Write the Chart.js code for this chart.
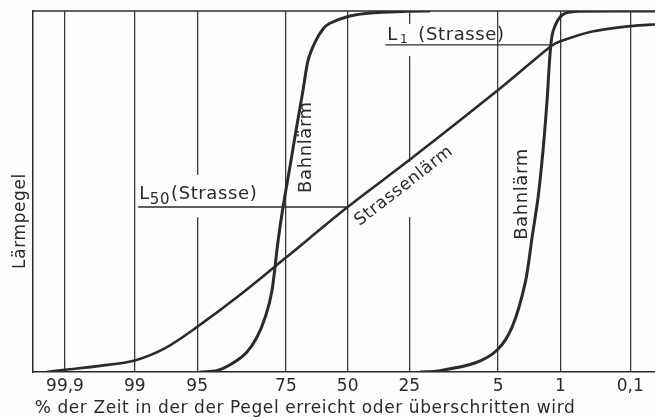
<!DOCTYPE html>
<html>
<head>
<meta charset="utf-8">
<script src="https://cdn.jsdelivr.net/npm/chart.js@4/dist/chart.umd.min.js"></script>
<style>
  html, body { margin: 0; padding: 0; background: #fdfdfd; overflow: hidden; }
  #wrap { width: 655px; height: 418px; overflow: hidden; }
</style>
</head>
<body>
<div id="wrap"><canvas id="chart" width="680" height="418"></canvas></div>
<script>
// probability axis ticks (% of time the level is reached or exceeded)
const tickPct = [99.9, 99, 95, 75, 50, 25, 5, 1, 0.1];
const tickLabels = ['99,9', '99', '95', '75', '50', '25', '5', '1', '0,1'];

// Strassenlärm (road noise) - percent / relative level
const roadPct = [99.95, 99.9, 99.66, 99, 97.7, 95, 88, 75, 50, 25, 5, 1.3, 1, 0.4, 0.1, 0.031];
const roadLevel = [0, 0.6, 1.7, 3.2, 6.6, 12.5, 21.4, 31.7, 45.7, 58.7, 78.1, 90.3, 91.6, 94.2, 95.8, 96.4];

// Bahnlärm (rail noise), first curve
const railAPct = [94.7, 92.3, 89.5, 86.5, 83.9, 81.5, 79.6, 77.7, 76.0, 73.6, 71.0, 68.7, 66.7, 63.9, 60.6, 57.7, 49.0, 41.2, 25.4, 18.4];
const railALevel = [0, 0.4, 2.5, 5.5, 9.7, 15.5, 22.5, 36.0, 45.7, 56.8, 68.5, 78.1, 86.4, 91.4, 95.0, 96.6, 98.6, 99.4, 99.9, 100];

// Bahnlärm (rail noise), second curve
const railBPct = [21.4, 16.1, 8.2, 5.1, 3.6, 2.61, 2.18, 1.86, 1.63, 1.46, 1.34, 1.23, 0.95, 0.585, 0.031];
const railBLevel = [0, 0.3, 2.5, 6.1, 12.5, 24.7, 37.5, 48.6, 61.5, 75.3, 88.5, 94.5, 98.9, 99.9, 100];

// reference lines L50 / L1 of road noise
const l50Line = { fromPct: 98.9, toPct: 50, level: 45.7 };
const l1Line = { fromPct: 34, toPct: 1.3, level: 90.6 };

const FONT = "'DejaVu Sans', sans-serif";
const INK = '#2b2b2b';

// inverse normal CDF (Acklam)
function probit(p) {
    const a = [-3.969683028665376e+01, 2.209460984245205e+02, -2.759285104469687e+02, 1.383577518672690e+02, -3.066479806614716e+01, 2.506628277459239e+00];
    const b = [-5.447609879822406e+01, 1.615858368580409e+02, -1.556989798598866e+02, 6.680131188771972e+01, -1.328068155288572e+01];
    const c = [-7.784894002430293e-03, -3.223964580411365e-01, -2.400758277161838e+00, -2.549732539343734e+00, 4.374664141464968e+00, 2.938163982698783e+00];
    const d = [7.784695709041462e-03, 3.224671290700398e-01, 2.445134137142996e+00, 3.754408661907416e+00];
    const pl = 0.02425;
    let q, r;
    if (p < pl) {
        q = Math.sqrt(-2 * Math.log(p));
        return (((((c[0]*q+c[1])*q+c[2])*q+c[3])*q+c[4])*q+c[5]) / ((((d[0]*q+d[1])*q+d[2])*q+d[3])*q+1);
    }
    if (p <= 1 - pl) {
        q = p - 0.5; r = q * q;
        return (((((a[0]*r+a[1])*r+a[2])*r+a[3])*r+a[4])*r+a[5])*q / (((((b[0]*r+b[1])*r+b[2])*r+b[3])*r+b[4])*r+1);
    }
    q = Math.sqrt(-2 * Math.log(1 - p));
    return -(((((c[0]*q+c[1])*q+c[2])*q+c[3])*q+c[4])*q+c[5]) / ((((d[0]*q+d[1])*q+d[2])*q+d[3])*q+1);
}
// position on the probability axis (99,9 on the left)
const pos = pct => -probit(pct / 100);
const toPoints = (pcts, levels) => pcts.map((p, i) => ({ x: pos(p), y: levels[i] }));

// gaps cut into the vertical grid lines behind the labels
const gridGaps = [
    { pct: 95, from: 42.9, to: 54.6 },
    { pct: 25, from: 42.9, to: 58.2 },
    { pct: 25, from: 87.5, to: 96.4 }
];

const paperPlugin = {
    id: 'paper',
    beforeDraw(chart) {
        const ctx = chart.ctx;
        ctx.save();
        ctx.fillStyle = '#fdfdfd';
        ctx.fillRect(0, 0, chart.width, chart.height);
        ctx.restore();
    },
    beforeDatasetsDraw(chart) {
        const { ctx, scales: { x, y }, chartArea } = chart;
        ctx.save();
        ctx.fillStyle = '#fdfdfd';
        gridGaps.forEach(g => {
            const px = x.getPixelForValue(pos(g.pct));
            const y1 = y.getPixelForValue(g.to), y2 = y.getPixelForValue(g.from);
            ctx.fillRect(px - 2, y1, 4, y2 - y1);
        });
        // top frame line
        ctx.strokeStyle = INK;
        ctx.lineWidth = 1.5;
        ctx.beginPath();
        ctx.moveTo(chartArea.left, chartArea.top);
        ctx.lineTo(chartArea.right, chartArea.top);
        ctx.stroke();
        ctx.restore();
    },
    afterDatasetsDraw(chart) {
        const { ctx, scales: { x, y } } = chart;
        const X = p => x.getPixelForValue(pos(p));
        const Y = v => y.getPixelForValue(v);
        ctx.save();
        ctx.fillStyle = INK;
        ctx.strokeStyle = INK;
        ctx.letterSpacing = '0.6px';

        // L50 line + label
        let ly = Y(l50Line.level), lx = X(l50Line.fromPct);
        ctx.lineWidth = 1.3;
        ctx.beginPath(); ctx.moveTo(lx, ly); ctx.lineTo(X(l50Line.toPct), ly); ctx.stroke();
        ctx.textBaseline = 'alphabetic';
        ctx.textAlign = 'left';
        ctx.font = `18px ${FONT}`;
        ctx.fillText('L', lx + 1, ly - 8);
        let w = ctx.measureText('L').width;
        ctx.font = `15px ${FONT}`;
        ctx.fillText('50', lx + 1 + w, ly - 3);
        let w2 = ctx.measureText('50').width;
        ctx.font = `18px ${FONT}`;
        ctx.fillText('(Strasse)', lx + 2 + w + w2, ly - 8);

        // L1 line + label
        ly = Y(l1Line.level); lx = X(l1Line.fromPct);
        ctx.beginPath(); ctx.moveTo(lx, ly); ctx.lineTo(X(l1Line.toPct), ly); ctx.stroke();
        ctx.font = `18px ${FONT}`;
        ctx.fillText('L', lx + 2, ly - 5);
        w = ctx.measureText('L').width;
        ctx.font = `12px ${FONT}`;
        ctx.fillText('1', lx + 4 + w, ly - 2);
        ctx.font = `18px ${FONT}`;
        ctx.fillText('(Strasse)', lx + 33, ly - 5);

        // curve names
        ctx.textAlign = 'center';
        ctx.textBaseline = 'middle';
        ctx.font = `18px ${FONT}`;
        [[67.4, 62.3], [2.82, 49.3]].forEach(([p, v]) => {
            ctx.save();
            ctx.translate(X(p), Y(v));
            ctx.rotate(-Math.PI / 2);
            ctx.fillText('Bahnlärm', 0, 0);
            ctx.restore();
        });
        const ang = Math.atan2(Y(78.1) - Y(45.7), X(5) - X(50));
        ctx.save();
        ctx.translate(X(26.9), Y(51.5));
        ctx.rotate(ang);
        ctx.font = `17px ${FONT}`;
        ctx.fillText('Strassenlärm', 0, 0);
        ctx.restore();

        // axis titles
        ctx.font = `17px ${FONT}`;
        ctx.letterSpacing = '0.6px';
        ctx.textBaseline = 'alphabetic';
        ctx.fillText('% der Zeit in der der Pegel erreicht oder überschritten wird', 305, 413);
        ctx.save();
        ctx.translate(21, 221);
        ctx.rotate(-Math.PI / 2);
        ctx.textBaseline = 'middle';
        ctx.font = `17px ${FONT}`;
        ctx.fillText('Lärmpegel', 0, 0);
        ctx.restore();
        ctx.restore();
    }
};

const lineStyle = (w) => ({
    borderColor: INK, borderWidth: w, pointRadius: 0,
    tension: 0.3, fill: false
});

new Chart(document.getElementById('chart'), {
    type: 'line',
    data: {
        datasets: [
            { label: 'Strassenlärm', data: toPoints(roadPct, roadLevel), ...lineStyle(2.6) },
            { label: 'Bahnlärm', data: toPoints(railAPct, railALevel), ...lineStyle(3) },
            { label: 'Bahnlärm', data: toPoints(railBPct, railBLevel), ...lineStyle(3) }
        ]
    },
    options: {
        responsive: false,
        animation: false,
        devicePixelRatio: 1,
        layout: { padding: { left: 0, top: 11, right: 15, bottom: 0 } },
        plugins: { legend: { display: false }, tooltip: { enabled: false } },
        scales: {
            x: {
                type: 'linear', min: -3.44, max: 3.47,
                afterBuildTicks: s => { s.ticks = tickPct.map(p => ({ value: pos(p) })); },
                afterFit: s => { s.height = 46; },
                ticks: {
                    callback: (v, i) => tickLabels[i],
                    autoSkip: false, maxRotation: 0, padding: 4,
                    font: { family: FONT, size: 17 }, color: INK
                },
                grid: { color: '#3a3a3a', lineWidth: 1.3, drawTicks: false },
                border: { color: INK, width: 1.6 }
            },
            y: {
                min: 0, max: 100,
                afterFit: s => { s.width = 33; },
                ticks: { display: false },
                grid: { display: false },
                border: { color: INK, width: 1.5 }
            }
        }
    },
    plugins: [paperPlugin]
});
</script>
</body>
</html>
